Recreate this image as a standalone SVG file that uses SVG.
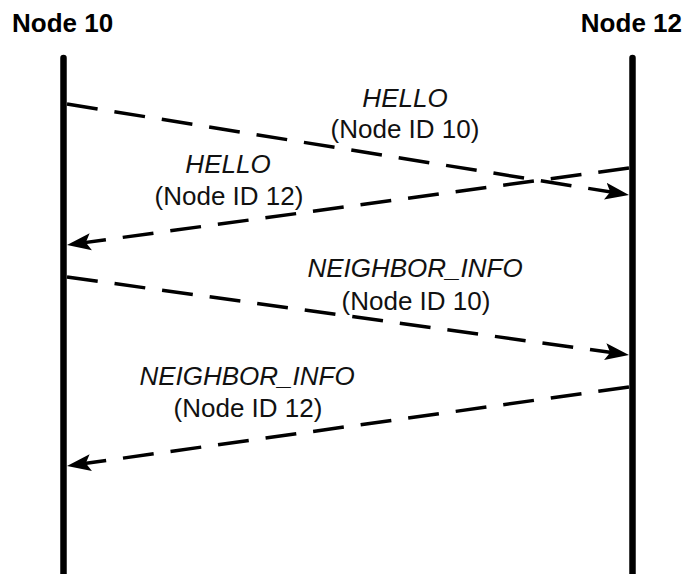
<svg xmlns="http://www.w3.org/2000/svg" width="683" height="574" viewBox="0 0 683 574">
<style>
.title{font-family:"Liberation Sans",Arial,sans-serif;font-weight:bold;font-size:26px;fill:#000}
.lbl{font-family:"Liberation Sans",Arial,sans-serif;font-size:26px;fill:#111;text-anchor:middle}
.it{font-style:italic}
.life{stroke:#000;stroke-width:6.5;stroke-linecap:round;fill:none}
.msg{stroke:#000;stroke-width:3.5;stroke-dasharray:31 17;fill:none;marker-end:url(#ah)}
</style>
<defs>
<marker id="ah" viewBox="0 0 24 18" refX="24" refY="9" markerWidth="24" markerHeight="18" markerUnits="userSpaceOnUse" orient="auto">
<path d="M0,0.5 L24,9 L0,17.5 L5,9 z" fill="#000"/>
</marker>
</defs>
<g id="node10">
<text class="title" x="12" y="32">Node 10</text>
<line class="life" x1="63.5" y1="58" x2="63.5" y2="600"/>
</g>
<g id="node12">
<text class="title" x="682" y="32" text-anchor="end">Node 12</text>
<line class="life" x1="632.5" y1="58" x2="632.5" y2="600"/>
</g>
<g id="connectors">
<line class="msg" x1="67" y1="104" x2="629" y2="195"/>
<line class="msg" x1="629" y1="168" x2="67" y2="245"/>
<line class="msg" x1="67" y1="277" x2="629" y2="355"/>
<line class="msg" x1="629" y1="387" x2="67" y2="466"/>
</g>
<g id="labels">
<text class="lbl it" x="405" y="107">HELLO</text>
<text class="lbl" x="405" y="138">(Node ID 10)</text>
<text class="lbl it" x="228" y="173">HELLO</text>
<text class="lbl" x="229" y="205">(Node ID 12)</text>
<text class="lbl it" x="415" y="277">NEIGHBOR_INFO</text>
<text class="lbl" x="416" y="310">(Node ID 10)</text>
<text class="lbl it" x="247" y="385">NEIGHBOR_INFO</text>
<text class="lbl" x="248" y="417">(Node ID 12)</text>
</g>
</svg>
